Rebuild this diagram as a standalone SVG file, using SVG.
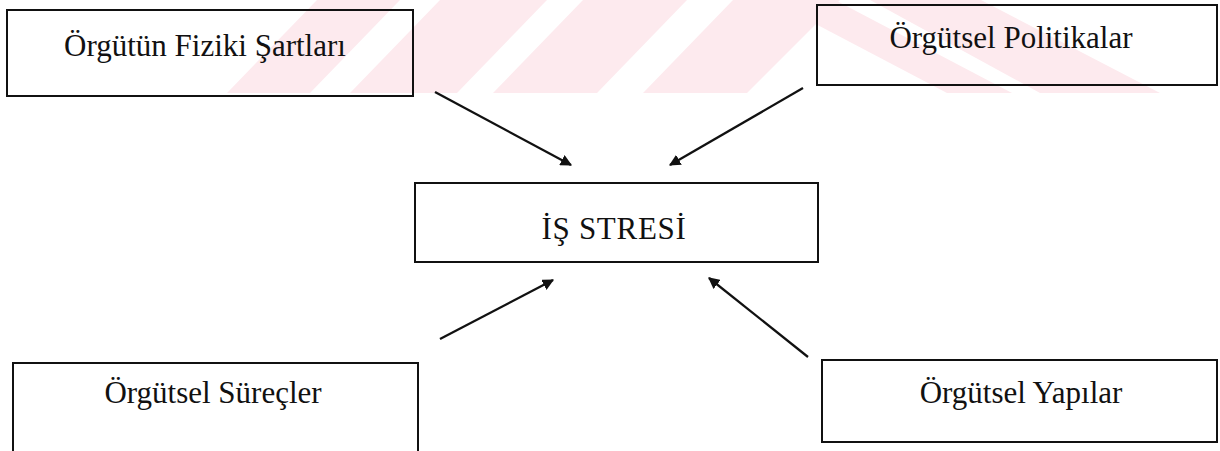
<svg xmlns="http://www.w3.org/2000/svg" width="1220" height="451" viewBox="0 0 1220 451">
  <style>
    .box { fill: none; stroke: #111; stroke-width: 2; }
    .lbl { font-family: "Liberation Serif", "Times New Roman", serif; font-size: 31px; fill: #111; text-anchor: middle; }
    .wm { fill: #fdeaee; stroke: none; }
    .conn { stroke: #111; stroke-width: 2.3; fill: none; marker-end: url(#ah); }
  </style>
  <defs>
    <marker id="ah" viewBox="0 0 10 10" refX="9" refY="5" markerWidth="5" markerHeight="5" orient="auto" markerUnits="strokeWidth">
      <path d="M0,0 L10,5 L0,10 Z" fill="#111"/>
    </marker>
  </defs>
  <rect width="1220" height="451" fill="#ffffff"/>
  <g id="watermark">
    <polygon class="wm" points="317,0 400,0 310,93 227,93"/>
    <polygon class="wm" points="440,0 547,0 457,93 350,93"/>
    <polygon class="wm" points="583,0 687,0 597,93 493,93"/>
    <polygon class="wm" points="733,0 840,0 747,93 643,93"/>
    <polygon class="wm" points="770,0 835,0 1012,93 947,93"/>
    <polygon class="wm" points="870,0 981,0 1160,93 1040,93"/>
  </g>
  <g id="node-fiziki">
    <rect class="box" x="7" y="10" width="406" height="86"/>
    <text class="lbl" x="205" y="56">Örgütün Fiziki Şartları</text>
  </g>
  <g id="node-politikalar">
    <rect class="box" x="817" y="5" width="400" height="80"/>
    <text class="lbl" x="1011" y="48">Örgütsel Politikalar</text>
  </g>
  <g id="node-stres">
    <rect class="box" x="415" y="183" width="403" height="79"/>
    <text class="lbl" x="614" y="239" letter-spacing="0.7">İŞ STRESİ</text>
  </g>
  <g id="node-surecler">
    <rect class="box" x="13" y="363" width="405" height="100"/>
    <text class="lbl" x="213" y="403">Örgütsel Süreçler</text>
  </g>
  <g id="node-yapilar">
    <rect class="box" x="822" y="360" width="395" height="82"/>
    <text class="lbl" x="1021" y="403">Örgütsel Yapılar</text>
  </g>
  <g id="connectors">
    <line class="conn" x1="435" y1="92" x2="571" y2="165"/>
    <line class="conn" x1="803" y1="88" x2="670" y2="165"/>
    <line class="conn" x1="440" y1="339" x2="553" y2="280"/>
    <line class="conn" x1="808" y1="357" x2="709" y2="278"/>
  </g>
</svg>
